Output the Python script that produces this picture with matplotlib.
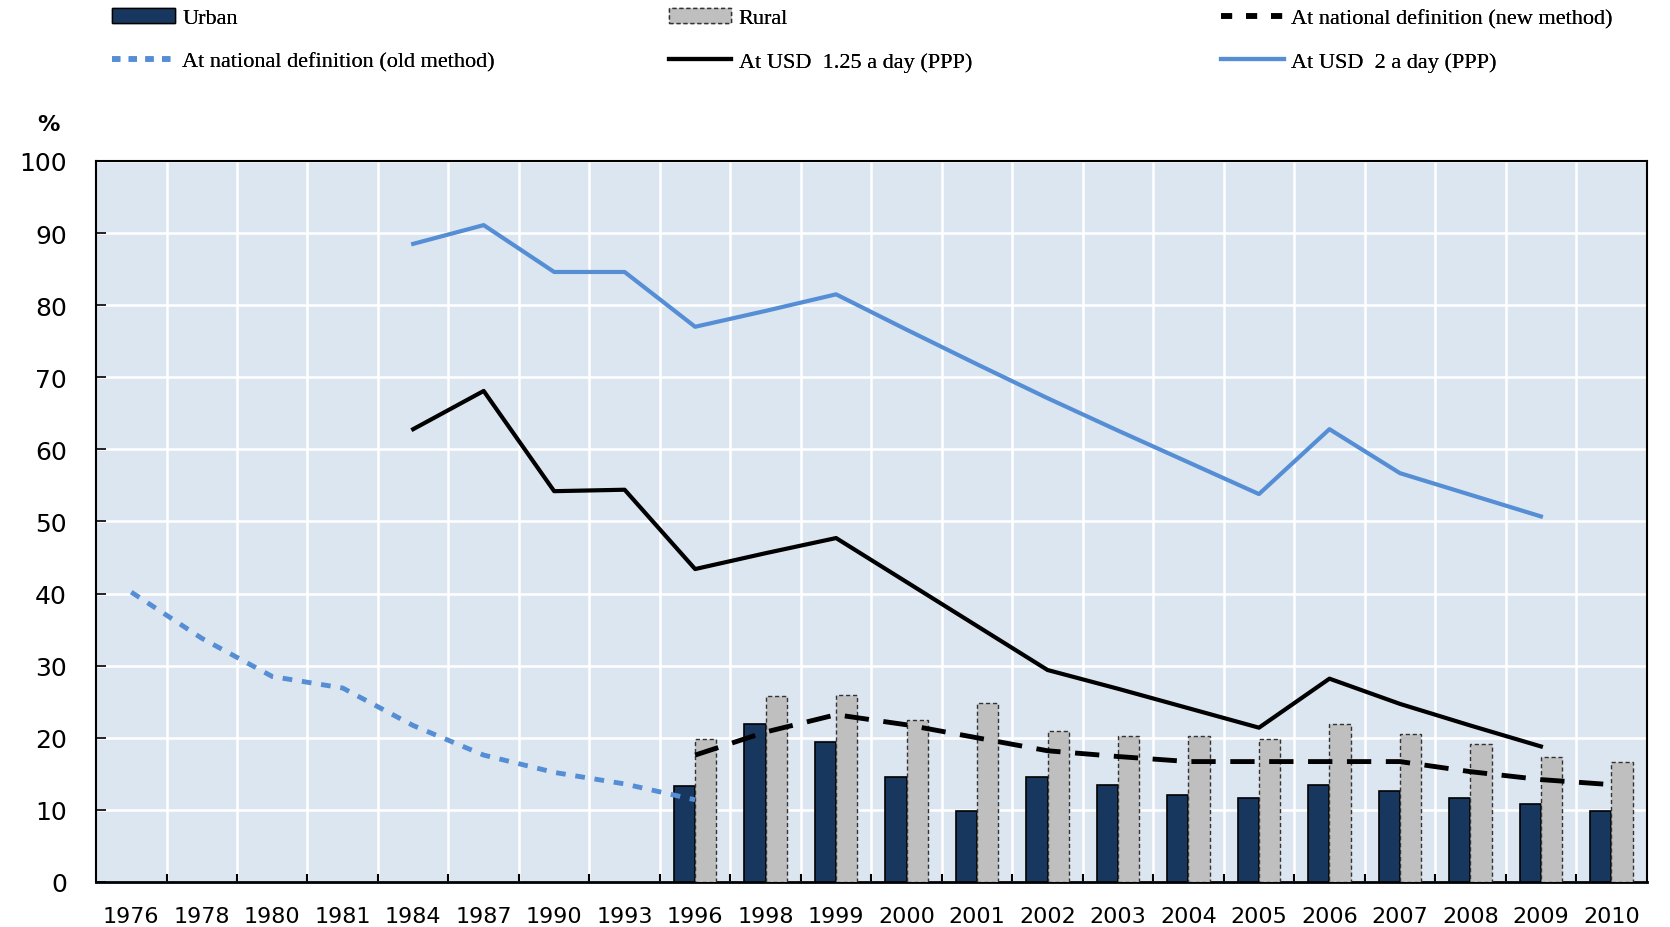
import numpy as np
import matplotlib
matplotlib.use('Agg')
import matplotlib.pyplot as plt
from matplotlib.lines import Line2D
from matplotlib.patches import Patch

years = ['1976', '1978', '1980', '1981', '1984', '1987', '1990', '1993', '1996', '1998', '1999',
         '2000', '2001', '2002', '2003', '2004', '2005', '2006', '2007', '2008', '2009', '2010']

# bars start in 1996
urban = [13.3, 21.9, 19.4, 14.5, 9.8, 14.5, 13.5, 12.1, 11.7, 13.5, 12.6, 11.7, 10.8, 9.9]
rural = [19.8, 25.8, 26.0, 22.5, 24.8, 21.0, 20.2, 20.2, 19.9, 21.9, 20.5, 19.1, 17.3, 16.7]
new_method = [17.6, 20.8, 23.2, 21.8, 20.0, 18.2, 17.4, 16.7, 16.7, 16.7, 16.7, 15.3, 14.2, 13.5]

# 1976 - 1996
old_method = [40.2, 33.8, 28.5, 26.9, 21.7, 17.6, 15.2, 13.6, 11.4]

# 1984 - 2009
usd125 = [62.8, 68.1, 54.2, 54.4, 43.4, 45.6, 47.7, 41.6, 35.5, 29.4, 26.8, 24.1, 21.4,
          28.2, 24.7, 21.7, 18.8]
usd2 = [88.5, 91.1, 84.6, 84.6, 77.0, 79.2, 81.5, 76.6, 71.8, 67.1, 62.6, 58.2, 53.8,
        62.8, 56.7, 53.7, 50.7]

DARK = '#17375E'
GREY = '#BFBFBF'
BLUE = '#558ED5'

x = np.arange(len(years))
i96 = years.index('1996')
i84 = years.index('1984')
xb = x[i96:]
w = 0.3

fig = plt.figure(figsize=(16.7, 9.28), dpi=100)
ax = fig.add_axes([0.0575, 0.0485, 0.9285, 0.777])
ax.set_facecolor('#DCE6F1')

ax.bar(xb - w / 2, urban, w, color=DARK, edgecolor='black', linewidth=1.2, zorder=3)
ax.bar(xb + w / 2, rural, w, color=GREY, edgecolor='#333333', linewidth=1.0,
       linestyle=(0, (3, 2)), zorder=3)

ax.plot(x[:i96 + 1], old_method, color=BLUE, lw=3.5, ls=(0, (2, 2)), zorder=4)
ax.plot(xb, new_method, color='black', lw=3.5, ls=(0, (5, 3)), zorder=4)
ax.plot(x[i84:i84 + len(usd125)], usd125, color='black', lw=3, zorder=4)
ax.plot(x[i84:i84 + len(usd2)], usd2, color=BLUE, lw=3, zorder=4)

ax.set_xlim(-0.5, len(years) - 0.5)
ax.set_ylim(0, 100)
ax.set_yticks(range(0, 101, 10))
ax.set_xticks(x)
ax.set_xticklabels(years, fontsize=16)
ax.set_xticks(x[:-1] + 0.5, minor=True)
ax.tick_params(axis='x', which='major', length=0, pad=17)
ax.tick_params(axis='x', which='minor', direction='in', length=6, width=1.5)
ax.tick_params(axis='y', direction='in', length=7, width=1.2, labelsize=18, pad=21)

ax.grid(True, axis='y', color='white', lw=1.8, zorder=0)
ax.grid(True, axis='x', which='minor', color='white', lw=1.8, zorder=0)
ax.set_axisbelow(True)
for s in ax.spines.values():
    s.set_linewidth(1.5)
ax.spines['bottom'].set_linewidth(2)

fig.text(0.029, 0.865, '%', fontsize=16, fontweight='bold', ha='center', va='center')

# legend: three columns placed one by one
legend_cols = [
    [Patch(facecolor=DARK, edgecolor='black', label='Urban'),
     Line2D([], [], color=BLUE, lw=4, ls=(0, (1.5, 1.5)), label='At national definition (old method)')],
    [Patch(facecolor=GREY, edgecolor='#333333', linestyle=(0, (3, 2)), label='Rural'),
     Line2D([], [], color='black', lw=3, label='At USD  1.25 a day (PPP)')],
    [Line2D([], [], color='black', lw=4, ls=(0, (2, 2.5)), label='At national definition (new method)'),
     Line2D([], [], color=BLUE, lw=3, label='At USD  2 a day (PPP)')],
]
col_x = [0.062, 0.395, 0.726]
for hs, cx in zip(legend_cols, col_x):
    leg = fig.legend(handles=hs, loc='upper left', bbox_to_anchor=(cx, 1.0), frameon=False,
                     prop={'family': 'Liberation Serif', 'size': 16}, handlelength=2.8,
                     handletextpad=0.35, labelspacing=1.02, borderaxespad=0)
    fig.add_artist(leg)

fig.savefig('out.png', dpi=100)
